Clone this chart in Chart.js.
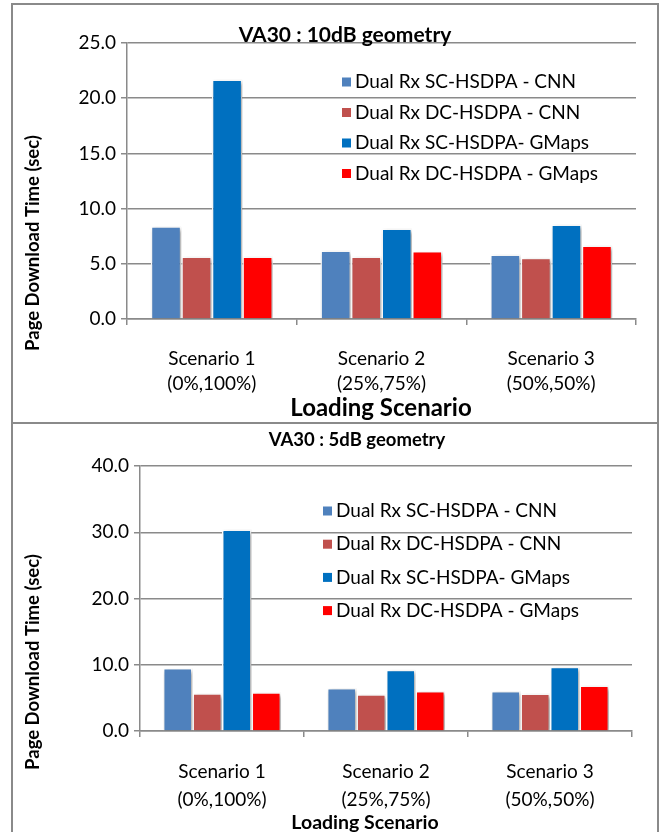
<!DOCTYPE html>
<html>
<head>
<meta charset="utf-8">
<title>Page download time</title>
<script src="https://cdn.jsdelivr.net/npm/chart.js@4.4.1/dist/chart.umd.min.js"></script>
<style>
  body { margin: 0; background: #fff; width: 667px; height: 832px; position: relative; overflow: hidden; }
  .box { position: absolute; left: 11px; width: 648px; border: 2px solid #8a8a8a; box-sizing: border-box; }
  #box1 { top: 3px; height: 421px; }
  #box2 { top: 422px; height: 430px; }
  canvas { position: absolute; left: 13px; }
  #c1 { top: 5px; }
  #c2 { top: 424px; }
</style>
</head>
<body>
<div class="box" id="box1"></div>
<div class="box" id="box2"></div>
<canvas id="c1" width="644" height="417"></canvas>
<canvas id="c2" width="644" height="408"></canvas>
<script>
const categories = [['Scenario 1', '(0%,100%)'], ['Scenario 2', '(25%,75%)'], ['Scenario 3', '(50%,50%)']];
const seriesNames = ['Dual Rx SC-HSDPA - CNN', 'Dual Rx DC-HSDPA - CNN', 'Dual Rx SC-HSDPA- GMaps', 'Dual Rx DC-HSDPA - GMaps'];
const seriesColors = ['#4F81BD', '#C0504D', '#0070C0', '#FF0000'];

// VA30 : 10dB geometry
const scCnn10 = [8.4, 6.2, 5.85];
const dcCnn10 = [5.65, 5.65, 5.55];
const scGmaps10 = [21.7, 8.2, 8.55];
const dcGmaps10 = [5.65, 6.15, 6.65];
const yTicks10 = [0, 5, 10, 15, 20, 25];

// VA30 : 5dB geometry
const scCnn5 = [9.5, 6.5, 6.05];
const dcCnn5 = [5.7, 5.55, 5.65];
const scGmaps5 = [30.4, 9.25, 9.7];
const dcGmaps5 = [5.85, 6.05, 6.85];
const yTicks5 = [0, 10, 20, 30, 40];

const FONT = 'Lato, "Open Sans", sans-serif';
const GRID = '#8a8a8a';

// titles, axis titles and the in-plot legend, plus a soft bar shadow
const decor = {
  id: 'decor',
  beforeDatasetsDraw(chart) {
    const c = chart.ctx;
    c.save();
    c.shadowColor = 'rgba(0,0,0,0.35)';
    c.shadowBlur = 4;
    c.shadowOffsetX = 2;
    c.shadowOffsetY = 2;
  },
  afterDatasetsDraw(chart) {
    chart.ctx.restore();
  },
  afterDraw(chart, args, opts) {
    const c = chart.ctx;
    c.save();
    c.fillStyle = '#000';
    c.textAlign = 'center';
    c.textBaseline = 'middle';
    (opts.texts || []).forEach(t => {
      c.save();
      c.font = t.font;
      c.translate(t.x, t.y);
      if (t.rot) c.rotate(t.rot);
      c.fillText(t.text, 0, 0);
      c.restore();
    });
    const lg = opts.legend;
    c.font = lg.font;
    c.textAlign = 'left';
    chart.data.datasets.forEach((ds, i) => {
      const y = lg.y + i * lg.gap;
      c.fillStyle = ds.backgroundColor;
      c.fillRect(lg.x, y - 4.5, 9, 9);
      c.fillStyle = '#000';
      c.fillText(ds.label, lg.x + 13, y);
    });
    c.restore();
  }
};

function makeChart(id, series, yTicks, cfg) {
  return new Chart(document.getElementById(id), {
    type: 'bar',
    data: {
      labels: categories,
      datasets: series.map((vals, i) => ({
        label: seriesNames[i],
        data: vals,
        backgroundColor: seriesColors[i],
        borderColor: '#ffffff',
        borderWidth: 1.5,
        categoryPercentage: 0.72,
        barPercentage: 1.0
      }))
    },
    options: {
      responsive: false,
      animation: false,
      devicePixelRatio: 1,
      layout: { padding: { top: cfg.top, right: cfg.right, left: 0, bottom: 0 } },
      plugins: {
        legend: { display: false },
        tooltip: { enabled: false },
        decor: { texts: cfg.texts, legend: cfg.legend }
      },
      scales: {
        x: {
          afterFit(s) { s.height = cfg.xHeight; },
          grid: { display: true, drawOnChartArea: false, drawTicks: true, tickLength: 6, color: GRID, lineWidth: 1.5, offset: true },
          border: { display: true, color: GRID, width: 1.5 },
          ticks: { color: '#000', padding: cfg.xPad, font: { family: FONT, size: 19, lineHeight: cfg.xLine } }
        },
        y: {
          min: yTicks[0],
          max: yTicks[yTicks.length - 1],
          afterFit(s) { s.width = cfg.yWidth; },
          grid: { color: GRID, lineWidth: 1.5, tickLength: 6 },
          border: { display: true, color: GRID, width: 1.5 },
          ticks: {
            stepSize: yTicks[1] - yTicks[0],
            color: '#000',
            padding: 5,
            font: { family: FONT, size: 19 },
            callback: v => v.toFixed(1)
          }
        }
      }
    },
    plugins: [decor]
  });
}

makeChart('c1', [scCnn10, dcCnn10, scGmaps10, dcGmaps10], yTicks10, {
  top: 38, right: 21, yWidth: 114, xHeight: 103, xPad: 21, xLine: 1.32,
  legend: { x: 329, y: 77, gap: 30.5, font: '19px ' + FONT },
  texts: [
    { text: 'VA30 : 10dB geometry', x: 332, y: 30, font: 'bold 21px ' + FONT },
    { text: 'Loading Scenario', x: 368, y: 403, font: 'bold 24px ' + FONT },
    { text: 'Page Download Time (sec)', x: 20, y: 238, rot: -Math.PI / 2, font: 'bold 18.5px ' + FONT }
  ]
});

makeChart('c2', [scCnn5, dcCnn5, scGmaps5, dcGmaps5], yTicks5, {
  top: 42, right: 25, yWidth: 127, xHeight: 101, xPad: 21, xLine: 1.47,
  legend: { x: 310, y: 87, gap: 33.2, font: '19px ' + FONT },
  texts: [
    { text: 'VA30 : 5dB geometry', x: 344, y: 16, font: 'bold 18.5px ' + FONT },
    { text: 'Loading Scenario', x: 352, y: 399, font: 'bold 19.5px ' + FONT },
    { text: 'Page Download Time (sec)', x: 20, y: 238, rot: -Math.PI / 2, font: 'bold 18.5px ' + FONT }
  ]
});
</script>
</body>
</html>
